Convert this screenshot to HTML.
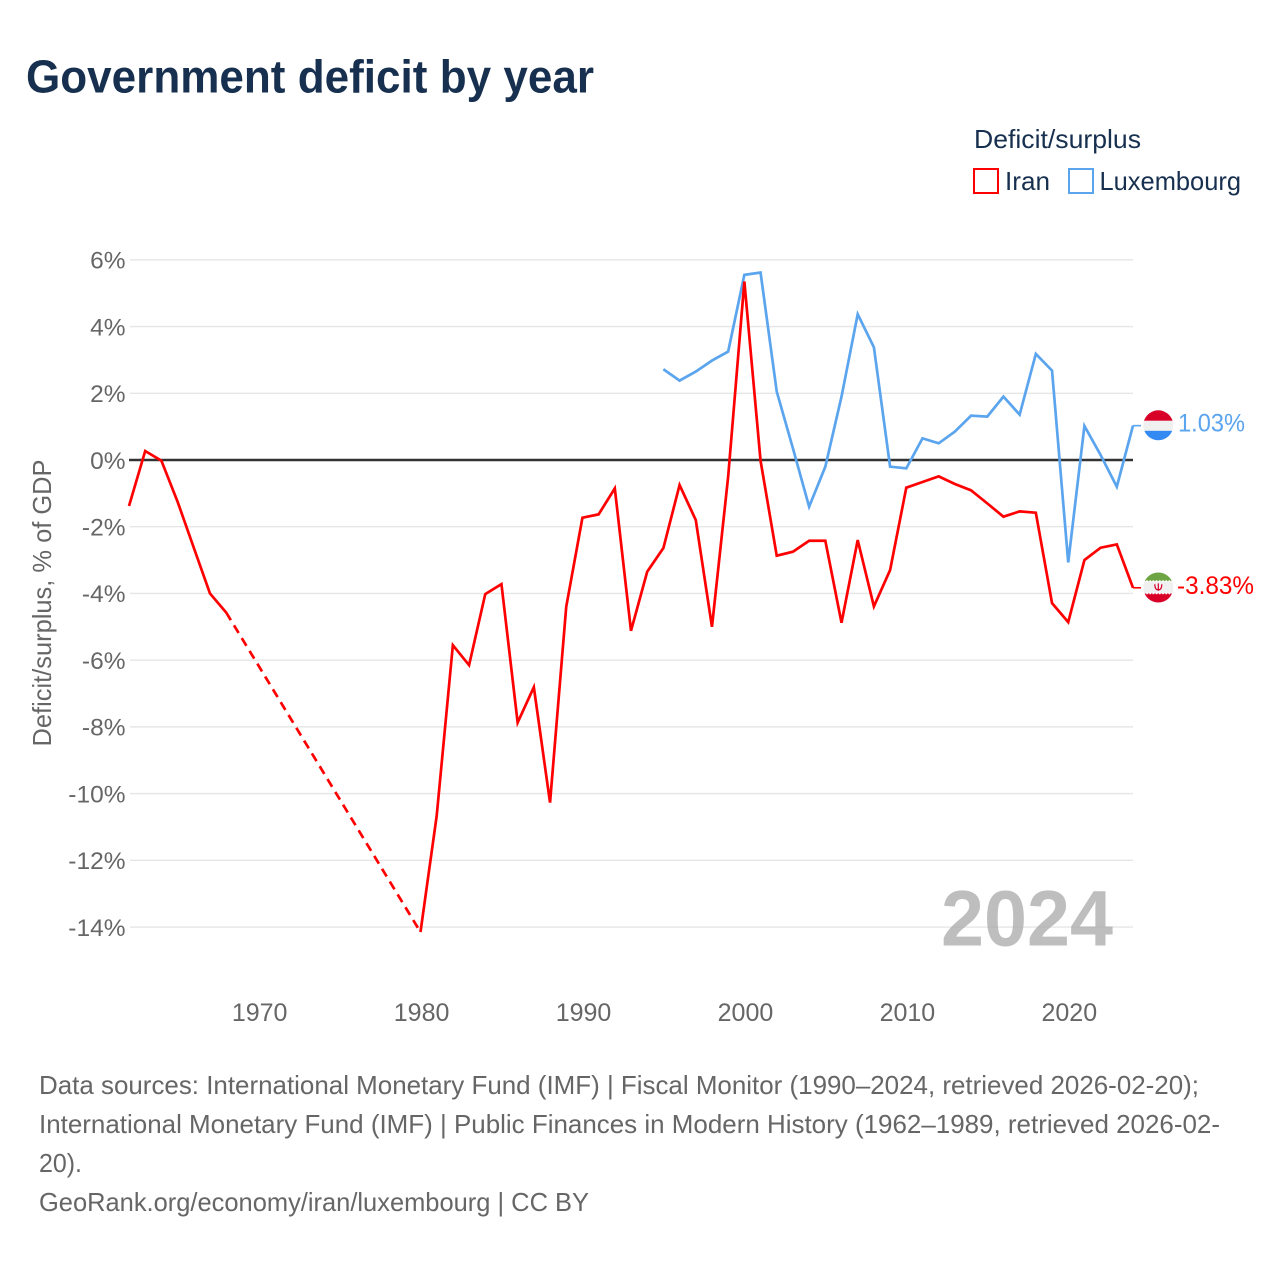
<!DOCTYPE html>
<html lang="en">
<head>
<meta charset="utf-8">
<title>Government deficit by year</title>
<style>
html,body{margin:0;padding:0;background:#fff;width:1280px;height:1280px;overflow:hidden}
svg{display:block;font-family:"Liberation Sans",sans-serif}
</style>
</head>
<body>
<svg id="chart" width="1280" height="1280" viewBox="0 0 1280 1280" xmlns="http://www.w3.org/2000/svg">
  <defs>
    <clipPath id="flag-clip-lux"><circle cx="1158.3" cy="425.3" r="15"/></clipPath>
    <clipPath id="flag-clip-iran"><circle cx="1158.3" cy="587.5" r="15"/></clipPath>
  </defs>
  <rect width="1280" height="1280" fill="#fff"/>
  <text x="26" y="92.5" font-size="46" font-weight="700" fill="#18304f" textLength="568" lengthAdjust="spacingAndGlyphs">Government deficit by year</text>

  <g>
    <text x="974" y="148" font-size="26" fill="#18304f" textLength="167" lengthAdjust="spacingAndGlyphs">Deficit/surplus</text>
    <rect x="974" y="169" width="24" height="24" fill="#fff" stroke="#ff0000" stroke-width="2"/>
    <text x="1005" y="190" font-size="26" fill="#18304f" textLength="45" lengthAdjust="spacingAndGlyphs">Iran</text>
    <rect x="1069" y="169" width="24" height="24" fill="#fff" stroke="#5ba4ee" stroke-width="2"/>
    <text x="1099.5" y="190" font-size="26" fill="#18304f" textLength="141.5" lengthAdjust="spacingAndGlyphs">Luxembourg</text>
  </g>

  <g id="grid"></g>
  <g id="ytick-labels"></g>
  <g id="xtick-labels"></g>
  <text transform="translate(51,603) rotate(-90)" text-anchor="middle" font-size="26" fill="#666" textLength="287" lengthAdjust="spacingAndGlyphs">Deficit/surplus, % of GDP</text>

  <text x="941" y="945.5" font-size="79" font-weight="700" fill="#a8a8a8" fill-opacity="0.75" textLength="172" lengthAdjust="spacingAndGlyphs">2024</text>

  <line id="zero-line" x1="129" x2="1133" stroke="#333" stroke-width="2.4"/>
  <g id="series"></g>

  <g clip-path="url(#flag-clip-lux)">
    <rect x="1140" y="408" width="36" height="12.8" fill="#d80027"/>
    <rect x="1140" y="420.8" width="36" height="10" fill="#f0f0f0"/>
    <rect x="1140" y="430.8" width="36" height="12" fill="#338af3"/>
  </g>
  <g id="iran-flag" clip-path="url(#flag-clip-iran)">
    <rect x="1140" y="570" width="36" height="11" fill="#6da544"/>
    <rect x="1140" y="581" width="36" height="12.5" fill="#f0f0f0"/>
    <rect x="1140" y="593.5" width="36" height="12" fill="#d80027"/>
    <line x1="1143" x2="1174" y1="581" y2="581" stroke="#fff" stroke-width="1.4" stroke-dasharray="1.6,1.6"/>
    <line x1="1143" x2="1174" y1="593.5" y2="593.5" stroke="#fff" stroke-width="1.4" stroke-dasharray="1.6,1.6"/>
    <path d="M1154.8 584.3c0 4 1.6 5.6 3.5 5.6s3.5-1.6 3.5-5.6M1158.3 583.4v7.4" fill="none" stroke="#d80027" stroke-width="1.2"/>
  </g>
  <g id="end-labels"></g>

  <g font-size="26" fill="#666">
    <text x="39" y="1094" textLength="1160" lengthAdjust="spacingAndGlyphs">Data sources: International Monetary Fund (IMF) | Fiscal Monitor (1990–2024, retrieved 2026-02-20);</text>
    <text x="39" y="1133" textLength="1181" lengthAdjust="spacingAndGlyphs">International Monetary Fund (IMF) | Public Finances in Modern History (1962–1989, retrieved 2026-02-</text>
    <text x="39" y="1172" textLength="43" lengthAdjust="spacingAndGlyphs">20).</text>
    <text x="39" y="1211" textLength="550" lengthAdjust="spacingAndGlyphs">GeoRank.org/economy/iran/luxembourg | CC BY</text>
  </g>
</svg>
<script>
const yearsIran = [1962,1963,1964,1965,1966,1967,1968,1980,1981,1982,1983,1984,1985,1986,1987,1988,1989,1990,1991,1992,1993,1994,1995,1996,1997,1998,1999,2000,2001,2002,2003,2004,2005,2006,2007,2008,2009,2010,2011,2012,2013,2014,2015,2016,2017,2018,2019,2020,2021,2022,2023,2024];
const valuesIran = [-1.38,0.27,-0.02,-1.25,-2.63,-4.0,-4.57,-14.15,-10.67,-5.55,-6.15,-4.02,-3.72,-7.87,-6.81,-10.27,-4.4,-1.73,-1.63,-0.85,-5.12,-3.35,-2.64,-0.75,-1.8,-5.0,-0.5,5.35,-0.02,-2.87,-2.75,-2.42,-2.42,-4.88,-2.4,-4.39,-3.3,-0.83,-0.66,-0.49,-0.72,-0.91,-1.3,-1.7,-1.54,-1.58,-4.29,-4.86,-3.0,-2.63,-2.53,-3.83];
const yearsLux = [1995,1996,1997,1998,1999,2000,2001,2002,2003,2004,2005,2006,2007,2008,2009,2010,2011,2012,2013,2014,2015,2016,2017,2018,2019,2020,2021,2022,2023,2024];
const valuesLux = [2.72,2.38,2.65,2.98,3.25,5.55,5.62,2.05,0.35,-1.4,-0.2,1.9,4.37,3.38,-0.2,-0.25,0.65,0.5,0.85,1.33,1.3,1.9,1.36,3.18,2.68,-3.07,1.02,0.15,-0.8,1.03];
const yTicks = [6,4,2,0,-2,-4,-6,-8,-10,-12,-14];
const xTicks = [1970,1980,1990,2000,2010,2020];
const endLabelIran = "-3.83%";
const endLabelLux = "1.03%";

const NS = "http://www.w3.org/2000/svg";
const xScale = year => 129 + (year - 1962) * (1133 - 129) / (2024 - 1962);
const yScale = value => 460 - value * 33.36;

function make(parent, tag, attrs, text) {
  const el = document.createElementNS(NS, tag);
  for (const k in attrs) el.setAttribute(k, attrs[k]);
  if (text !== undefined) el.textContent = text;
  parent.appendChild(el);
  return el;
}

const grid = document.getElementById("grid");
const yLabels = document.getElementById("ytick-labels");
yTicks.forEach(v => {
  if (v !== 0) {
    const gl = make(grid, "line", {x1: 130, x2: 1133, y1: yScale(v), y2: yScale(v), stroke: "#e6e6e6", "stroke-width": 1.4});
    
    
  }
  const t = make(yLabels, "text", {x: 125.5, y: yScale(v) + 8.8, "text-anchor": "end", "font-size": 24.5, fill: "#666"}, v + "%");
  
  
});

const xLabels = document.getElementById("xtick-labels");
xTicks.forEach(y => {
  const t = make(xLabels, "text", {x: xScale(y) + 1.1, y: 1021, "text-anchor": "middle", "font-size": 25, fill: "#666"}, String(y));
  
  
});

const zero = document.getElementById("zero-line");
zero.setAttribute("y1", yScale(0));
zero.setAttribute("y2", yScale(0));

const seriesG = document.getElementById("series");
function drawSeries(years, values, color, name) {
  let seg = [];
  const flush = () => {
    if (seg.length > 1) {
      const p = make(seriesG, "polyline", {points: seg.join(" "), fill: "none", stroke: color, "stroke-width": 2.7, "stroke-linejoin": "miter"});
      
      
    }
    seg = [];
  };
  years.forEach((yr, i) => {
    if (i > 0 && yr - years[i - 1] > 1) {
      flush();
      const d = make(seriesG, "line", {x1: xScale(years[i - 1]), y1: yScale(values[i - 1]), x2: xScale(yr), y2: yScale(values[i]), stroke: color, "stroke-width": 2.7, "stroke-dasharray": "9,6"});
      
      
    }
    seg.push(xScale(yr) + "," + yScale(values[i]));
  });
  flush();
  const last = values.length - 1;
  const c = make(seriesG, "line", {x1: xScale(years[last]), x2: 1141, y1: yScale(values[last]), y2: yScale(values[last]), stroke: color, "stroke-width": 1.6});
  
  
}
drawSeries(yearsLux, valuesLux, "#5ba4ee", "luxembourg");
drawSeries(yearsIran, valuesIran, "#ff0000", "iran");

const endG = document.getElementById("end-labels");
const lbLux = make(endG, "text", {x: 1178, y: 431.5, "font-size": 25, fill: "#5ba4ee", textLength: 67, lengthAdjust: "spacingAndGlyphs"}, endLabelLux);


const lbIran = make(endG, "text", {x: 1177, y: 594, "font-size": 25, fill: "#ff0000", textLength: 77, lengthAdjust: "spacingAndGlyphs"}, endLabelIran);


</script>
</body>
</html>
